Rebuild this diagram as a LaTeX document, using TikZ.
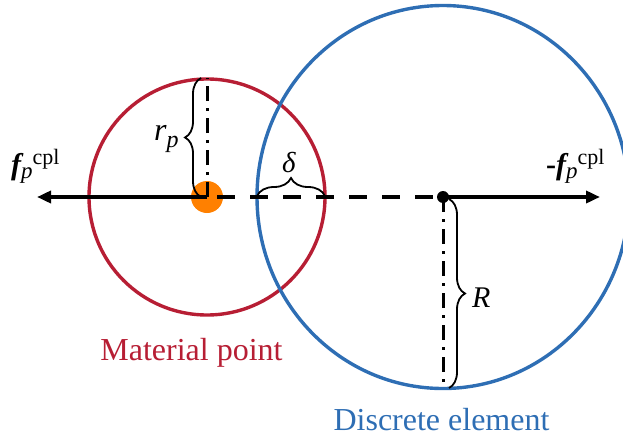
\documentclass[tikz,border=0pt]{standalone}
\usepackage{fontspec}
\setmainfont{Liberation Serif}
\usetikzlibrary{arrows.meta,decorations.pathreplacing,shapes.geometric}
\definecolor{mpred}{RGB}{183,30,52}
\definecolor{deblue}{RGB}{46,110,180}
\definecolor{dotorange}{RGB}{255,128,0}
\newcommand{\fcplsym}{{\fontsize{30}{32}\selectfont\bfseries\itshape f}\raisebox{-4pt}{\fontsize{23}{25}\selectfont\itshape p}\raisebox{10pt}{\fontsize{22}{24}\selectfont cpl}}
\begin{document}
\begin{tikzpicture}[x=1pt,y=-1pt,
  circ/.style={draw,line width=3.4pt,inner sep=0pt,outer sep=0pt,fill=none},
  force/.style={line width=3.6pt,-{Triangle[length=14pt,width=12pt]}},
  link/.style={line width=3.2pt,dash pattern=on 18pt off 15pt},
  radline/.style={line width=3pt,dash pattern=on 15pt off 7pt on 3pt off 7pt},
  bracestyle/.style={line width=1.8pt,decorate,decoration={brace,amplitude=#1}},
  lbl/.style={inner sep=0pt,anchor=base west},
  capt/.style={inner sep=0pt,anchor=base,font=\fontsize{32}{38}\selectfont}]
\useasboundingbox (0,0) rectangle (623,439);
\clip (0,0) rectangle (623,439);
% circles
\node[circle,circ,draw=mpred,minimum size=236pt] (mp) at (207,197) {};
\node[ellipse,circ,draw=deblue,minimum width=372pt,minimum height=383pt] (de) at (443,197) {};
% centres
\node[circle,fill=dotorange,minimum size=32pt,inner sep=0pt] (mpc) at (207,197) {};
\coordinate (dc) at (443,197);
\coordinate (dstart) at (217,197);
\coordinate (fltip) at (37,197);
\coordinate (frtip) at (600,197);
\coordinate (mptop) at (207,78);
\coordinate (debot) at (443,388);
% lines
\draw[link] (dstart) -- (dc);
\draw[force] (mpc.center) -- (fltip);
\draw[force] (dc) -- (frtip);
\draw[radline] (mpc.center) -- (mptop);
\draw[radline] (dc) -- (debot);
\node[circle,fill=black,minimum size=12pt,inner sep=0pt] (dec) at (dc) {};
% braces
\coordinate (rb1) at (201,197);
\coordinate (rb2) at (201,78);
\draw[bracestyle=16pt] (rb1) -- (rb2);
\coordinate (db1) at (257,196);
\coordinate (db2) at (325,196);
\draw[bracestyle=18pt] (db1) -- (db2);
\coordinate (Rb1) at (449,199);
\coordinate (Rb2) at (449,388);
\draw[bracestyle=16pt] (Rb1) -- (Rb2);
% labels
\node[lbl] (fl) at (11,174) {\fcplsym};
\node[lbl] (fr) at (546,174) {{\fontsize{30}{32}\selectfont\bfseries -}\fcplsym};
\node[lbl] (rp) at (154,140) {\fontsize{32}{34}\selectfont\itshape r\raisebox{-7pt}{\fontsize{24}{26}\selectfont p}};
\node[lbl] (dl) at (282,172) {\fontsize{29}{31}\selectfont\itshape δ};
\node[lbl] (Rl) at (472,307) {\fontsize{30}{32}\selectfont\itshape R};
\node[capt,text=mpred] (mpt) at (191.5,360) {Material point};
\node[capt,text=deblue] (det) at (441.5,430) {Discrete element};
\end{tikzpicture}
\end{document}
